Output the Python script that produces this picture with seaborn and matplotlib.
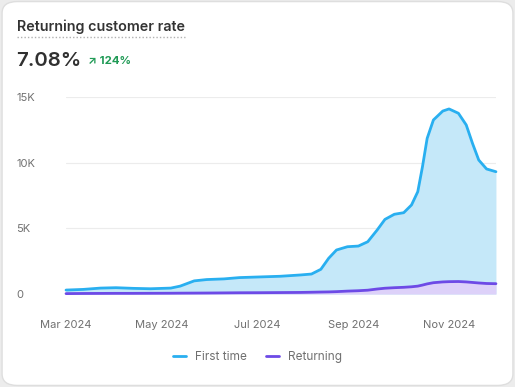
import pandas as pd
import matplotlib.pyplot as plt
import matplotlib.dates as mdates
from matplotlib.patches import FancyBboxPatch
from matplotlib.lines import Line2D
import seaborn as sns

# --- Data ---
dates = ["2024-03-01", "2024-03-12", "2024-03-23", "2024-04-02", "2024-04-13", "2024-04-24",
         "2024-05-07", "2024-05-13", "2024-05-22", "2024-05-30", "2024-06-10", "2024-06-20",
         "2024-07-03", "2024-07-16", "2024-07-29", "2024-08-05", "2024-08-11", "2024-08-16",
         "2024-08-21", "2024-08-28", "2024-09-04", "2024-09-10", "2024-09-16", "2024-09-21",
         "2024-09-27", "2024-10-03", "2024-10-08", "2024-10-12", "2024-10-15", "2024-10-18",
         "2024-10-22", "2024-10-28", "2024-11-01", "2024-11-07", "2024-11-12", "2024-11-16",
         "2024-11-20", "2024-11-25", "2024-12-01"]
first_time = [300, 350, 450, 480, 430, 400,
              450, 600, 1000, 1100, 1150, 1250,
              1300, 1350, 1450, 1520, 1880, 2720,
              3350, 3600, 3650, 3980, 4870, 5680,
              6070, 6190, 6780, 7790, 9690, 11850,
              13250, 13930, 14090, 13760, 12870, 11470,
              10200, 9520, 9310]
returning = [30, 40, 45, 50, 50, 55,
             60, 65, 70, 75, 85, 95,
             100, 110, 120, 135, 150, 160,
             180, 220, 250, 290, 380, 440,
             480, 510, 550, 600, 680, 770,
             860, 920, 940, 950, 920, 880,
             840, 800, 785]

title = "Returning customer rate"
rate_text = "7.08%"
change_text = "↗ 124%"
yticks = [0, 5000, 10000, 15000]
ytick_labels = ["0", "5K", "10K", "15K"]
xticks = ["2024-03-01", "2024-05-01", "2024-07-01", "2024-09-01", "2024-11-01"]

df = pd.DataFrame({"date": pd.to_datetime(dates), "First time": first_time, "Returning": returning})

blue, blue_fill = "#29aff0", "#c5e8f9"
purple, purple_fill = "#6d4ae6", "#ddd1f9"
grey = "#707070"

sns.set_theme(style="white")
plt.rcParams["font.family"] = ["Inter", "DejaVu Sans"]

fig = plt.figure(figsize=(5.15, 3.87), dpi=100)
fig.patch.set_facecolor("#ececec")
card = FancyBboxPatch((0.004, 0.004), 0.992, 0.992, boxstyle="round,pad=0,rounding_size=0.03",
                      transform=fig.transFigure, facecolor="white", edgecolor="#dedede",
                      linewidth=1, zorder=-10)
fig.patches.append(card)

ax = fig.add_axes([0.1282, 0.2403, 0.8348, 0.5091])
ax.set_facecolor("none")

ax.fill_between(df["date"], df["First time"], color=blue_fill, linewidth=0)
ax.fill_between(df["date"], df["Returning"], color=purple_fill, linewidth=0)
sns.lineplot(data=df, x="date", y="First time", ax=ax, color=blue, linewidth=2,
             clip_on=False, solid_joinstyle="round", solid_capstyle="round")
sns.lineplot(data=df, x="date", y="Returning", ax=ax, color=purple, linewidth=2,
             clip_on=False, solid_joinstyle="round", solid_capstyle="round")

ax.set_xlim(pd.Timestamp("2024-03-01"), pd.Timestamp("2024-12-01"))
ax.set_ylim(0, 15000)
ax.set_yticks(yticks)
ax.set_yticklabels(ytick_labels)
for lab in ax.get_yticklabels():
    lab.set_horizontalalignment("left")
ax.tick_params(axis="y", length=0, pad=36, labelsize=8, labelcolor=grey)
ax.set_xticks(pd.to_datetime(xticks))
ax.xaxis.set_major_formatter(mdates.DateFormatter("%b %Y"))
ax.tick_params(axis="x", length=0, pad=19, labelsize=8, labelcolor=grey)
ax.grid(axis="y", color="#ececec", linewidth=0.8)
ax.set_axisbelow(True)
for s in ax.spines.values():
    s.set_visible(False)
ax.set_xlabel("")
ax.set_ylabel("")

# header
fig.text(17 / 515, 1 - 27 / 387, title, fontsize=10.3, fontweight="semibold", color="#333333", va="center")
fig.add_artist(Line2D([17 / 515, 185 / 515], [1 - 37 / 387] * 2, transform=fig.transFigure,
                      color="#b0b0b0", linewidth=1, linestyle=(0, (1, 1.5))))
fig.text(16 / 515, 1 - 61 / 387, rate_text, fontsize=14.7, fontweight="semibold", color="#303030", va="center")
fig.text(88 / 515, 1 - 61 / 387, change_text, fontsize=8.2, fontweight="bold", color="#1f9a55", va="center")

handles = [Line2D([0], [0], color=blue, linewidth=2), Line2D([0], [0], color=purple, linewidth=2)]
fig.legend(handles, ["First time", "Returning"], loc="center", bbox_to_anchor=(0.5, 1 - 357 / 387),
           ncol=2, frameon=False, fontsize=8.5, labelcolor=grey, handlelength=1.1, handletextpad=0.8,
           columnspacing=1.6)

fig.savefig("out.png", dpi=100, facecolor=fig.get_facecolor())
